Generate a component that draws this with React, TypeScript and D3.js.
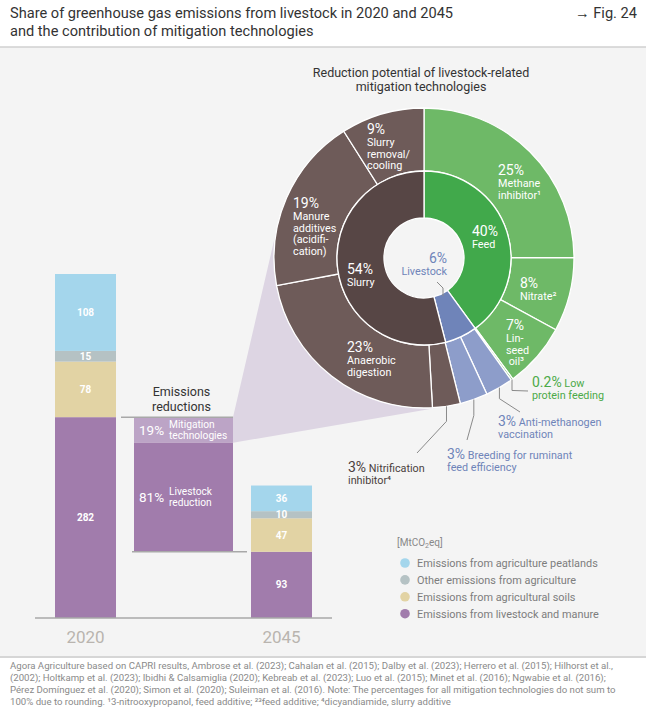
import React from 'react';
import * as d3 from 'd3';

const W = 646;
const H = 727;

// ---------- data ----------
const barCategories = [
  'Emissions from livestock and manure',
  'Emissions from agricultural soils',
  'Other emissions from agriculture',
  'Emissions from agriculture peatlands',
];
const values2020 = [282, 78, 15, 108];
const values2045 = [93, 47, 10, 36];
const barYears = ['2020', '2045'];
const categoryColors = ['#a17cac', '#e2d3a4', '#b5c2c4', '#a4d6ec'];

const reductionShares = [19, 81];
const reductionLabels = [['Mitigation', 'technologies'], ['Livestock', 'reduction']];

const innerNames = ['Feed', 'Livestock', 'Slurry'];
const innerValues = [40, 6, 54];
const outerNames = [
  'Methane inhibitor', 'Nitrate', 'Linseed oil', 'Low protein feeding',
  'Anti-methanogen vaccination', 'Breeding for ruminant feed efficiency',
  'Nitrification inhibitor', 'Anaerobic digestion', 'Manure additives (acidification)',
  'Slurry removal/cooling',
];
const outerValues = [25, 8, 7, 0.2, 3, 3, 3, 23, 19, 9];
const outerGroup = [0, 0, 0, 0, 1, 1, 2, 2, 2, 2];

const innerColors = ['#41a94b', '#6f84b9', '#574645'];
const outerColors = ['#6eb967', '#8d9dca', '#6e5b59'];

const footerLines = [
  'Agora Agriculture based on CAPRI results, Ambrose et al. (2023); Cahalan et al. (2015); Dalby et al. (2023); Herrero et al. (2015); Hilhorst et al.,',
  '(2002); Holtkamp et al. (2023); Ibidhi & Calsamiglia (2020); Kebreab et al. (2023); Luo et al. (2015); Minet et al. (2016); Ngwabie et al. (2016);',
  'Pérez Domínguez et al. (2020); Simon et al. (2020); Suleiman et al. (2016). Note: The percentages for all mitigation technologies do not sum to',
  '100% due to rounding. ¹3-nitrooxypropanol, feed additive; ²³feed additive; ⁴dicyandiamide, slurry additive',
];

const FONT = 'Roboto, "Noto Sans", sans-serif';

export default function App() {
  // ---------- bars ----------
  const baseY = 618;
  const y = d3.scaleLinear().domain([0, d3.sum(values2020)]).range([baseY, 274]);
  const hPx = (v: number) => baseY - y(v);
  const xc = d3.scalePoint<string>().domain(['2020', 'reduction', '2045']).range([85.5, 281.5]);
  const barW = 61;
  const redW = 99;

  const stackOf = (vals: number[]) => {
    let acc = 0;
    return vals.map((v, i) => {
      const s = { i, v, y0: acc, y1: acc + v };
      acc += v;
      return s;
    });
  };
  const stacks = [stackOf(values2020), stackOf(values2045)];

  const redTop = y(values2020[0]);
  const redBottom = y(values2045[0]);
  const redSplit = redTop + (redBottom - redTop) * (reductionShares[0] / d3.sum(reductionShares));
  const redX0 = (xc('reduction') as number) - redW / 2;
  const redX1 = redX0 + redW;

  // ---------- donut ----------
  const cx = 424, cy = 258;
  const rHole = 40, rMid = 87, rOut = 150;
  const pie = d3.pie<number>().sort(null).value((d) => d);
  const innerArcs = pie(innerValues);
  const outerArcs = pie(outerValues);
  const arcInner = d3.arc<d3.PieArcDatum<number>>().innerRadius(rHole).outerRadius(rMid);
  const arcOuter = d3.arc<d3.PieArcDatum<number>>().innerRadius(rMid).outerRadius(rOut);
  const outerPoint = (i: number) => {
    const a = (outerArcs[i].startAngle + outerArcs[i].endAngle) / 2;
    return [cx + rOut * Math.sin(a), cy - rOut * Math.cos(a)];
  };

  // funnel (tangent lines from reduction bar to the donut)
  const tangent = (px: number, py: number, upper: boolean) => {
    const dx = px - cx, dy = py - cy;
    const d = Math.hypot(dx, dy);
    const ang = Math.atan2(dy, dx);
    const al = Math.acos(rOut / d);
    const t = upper ? ang + al : ang - al;
    return [cx + rOut * Math.cos(t), cy + rOut * Math.sin(t)];
  };
  const P1 = [redX1, redTop];
  const P2 = [redX1, redSplit];
  const T1 = tangent(P1[0], P1[1], true);
  const T2 = tangent(P2[0], P2[1], false);
  const funnel = `M${P1[0]},${P1[1]} L${T1[0]},${T1[1]} A${rOut},${rOut} 0 0 0 ${T2[0]},${T2[1]} L${P2[0]},${P2[1]} Z`;

  // in-donut labels (x, y = baseline of pct line)
  const white = '#ffffff';
  const donutLabels = [
    { x: 498, y: 175, pct: '25%', lines: ['Methane', 'inhibitor¹'], color: white, anchor: 'start' },
    { x: 472, y: 236, pct: '40%', lines: ['Feed'], color: white, anchor: 'start' },
    { x: 520, y: 288, pct: '8%', lines: ['Nitrate²'], color: white, anchor: 'start' },
    { x: 506, y: 330, pct: '7%', lines: ['Lin-', 'seed', ' oil³'], color: white, anchor: 'start' },
    { x: 367, y: 134, pct: '9%', lines: ['Slurry', 'removal/', 'cooling'], color: white, anchor: 'start' },
    { x: 293, y: 208, pct: '19%', lines: ['Manure', 'additives', '(acidifi-', 'cation)'], color: white, anchor: 'start' },
    { x: 347, y: 274, pct: '54%', lines: ['Slurry'], color: white, anchor: 'start' },
    { x: 347, y: 352, pct: '23%', lines: ['Anaerobic', 'digestion'], color: white, anchor: 'start' },
    { x: 447, y: 263, pct: '6%', lines: ['Livestock'], color: innerColors[1], anchor: 'end' },
  ];

  const green = '#4caa48';
  const blue = '#6f84b9';
  const dark = '#4a3e3d';
  const extLabels = [
    { idx: 3, drop: 11, end: [528, 391], x: 532, y: 387, pct: '0.2%', first: ' Low', second: 'protein feeding', color: green },
    { idx: 4, drop: 11, end: [520, 412], x: 498, y: 426, pct: '3%', first: ' Anti-methanogen', second: 'vaccination', color: blue },
    { idx: 5, drop: 16, end: [467, 440], x: 447, y: 459, pct: '3%', first: ' Breeding for ruminant', second: 'feed efficiency', color: blue },
    { idx: 6, drop: 15, end: [417, 453], x: 348, y: 472, pct: '3%', first: ' Nitrification', second: 'inhibitor⁴', color: dark },
  ];

  const legendOrder = [3, 2, 1, 0];

  return (
    <svg
      width={W}
      height={H}
      viewBox={`0 0 ${W} ${H}`}
      style={{ position: 'absolute', left: 0, top: 0, fontFamily: FONT }}
    >
      <rect x={0} y={0} width={W} height={H} fill="#ffffff" />
      <rect x={0} y={47} width={W} height={609} fill="#f4f4f4" />
      <line x1={0} x2={W} y1={47} y2={47} stroke="#d0d0d0" strokeWidth={1.5} />
      <line x1={0} x2={W} y1={657} y2={657} stroke="#c8c8c8" strokeWidth={1.5} />

      {/* title */}
      <text x={10} y={18} fontSize={14.6} fill="#333">Share of greenhouse gas emissions from livestock in 2020 and 2045</text>
      <text x={10} y={36} fontSize={14.6} fill="#333">and the contribution of mitigation technologies</text>
      <text x={637} y={18} fontSize={14.6} fill="#333" textAnchor="end">→ Fig. 24</text>

      {/* funnel */}
      <path d={funnel} fill="#ddd5e3" />

      {/* stacked bars */}
      {stacks.map((st, bi) => {
        const cxBar = xc(barYears[bi]) as number;
        return (
          <g key={barYears[bi]}>
            {st.map((s) => (
              <rect key={s.i} x={cxBar - barW / 2} y={y(s.y1)} width={barW} height={hPx(s.v)} fill={categoryColors[s.i]} />
            ))}
            {st.map((s) => (
              <text key={'t' + s.i} x={cxBar} y={(y(s.y1) + y(s.y0)) / 2 + 3.6} fontSize={10} fontWeight="bold" fill="#fff" textAnchor="middle">
                {s.v}
              </text>
            ))}
            <text x={cxBar} y={643} fontSize={17} fill="#b9b4af" textAnchor="middle">{barYears[bi]}</text>
          </g>
        );
      })}
      <line x1={35} x2={332} y1={baseY} y2={baseY} stroke="#a8a8a8" strokeWidth={1.5} />

      {/* reduction bar */}
      <rect x={redX0} y={redTop} width={redW} height={redSplit - redTop} fill="#bca4c6" />
      <rect x={redX0} y={redSplit} width={redW} height={redBottom - redSplit} fill={categoryColors[0]} />
      <line x1={121} x2={redX1} y1={redTop} y2={redTop} stroke="#a8a8a8" strokeWidth={1.5} />
      <line x1={redX0 - 2} x2={247} y1={redBottom} y2={redBottom} stroke="#a8a8a8" strokeWidth={1.5} />
      <text x={(redX0 + redX1) / 2 - 2} y={396} fontSize={12.5} fill="#333" textAnchor="middle">Emissions</text>
      <text x={(redX0 + redX1) / 2 - 2} y={411} fontSize={12.5} fill="#333" textAnchor="middle">reductions</text>
      {[0, 1].map((k) => {
        const mid = k === 0 ? (redTop + redSplit) / 2 : (redSplit + redBottom) / 2;
        return (
          <g key={k}>
            <text x={redX0 + 5} y={mid + 5} fontSize={13.5} fill="#fff">{reductionShares[k]}%</text>
            <text x={redX0 + 35} y={mid - 2} fontSize={10.2} fill="#fff">{reductionLabels[k][0]}</text>
            <text x={redX0 + 35} y={mid + 9.2} fontSize={10.2} fill="#fff">{reductionLabels[k][1]}</text>
          </g>
        );
      })}

      {/* donut */}
      <text x={421} y={77} fontSize={12.5} fill="#333" textAnchor="middle">Reduction potential of livestock-related</text>
      <text x={421} y={91} fontSize={12.5} fill="#333" textAnchor="middle">mitigation technologies</text>
      <g transform={`translate(${cx},${cy})`}>
        {outerArcs.map((a, i) => (
          <path key={'o' + i} d={arcOuter(a) as string} fill={outerColors[outerGroup[i]]} stroke="#fff" strokeWidth={1.3} />
        ))}
        {innerArcs.map((a, i) => (
          <path key={'i' + i} d={arcInner(a) as string} fill={innerColors[i]} stroke="#fff" strokeWidth={1.3} />
        ))}
      </g>

      {donutLabels.map((l, i) => (
        <g key={'dl' + i} fill={l.color} textAnchor={l.anchor as any}>
          <text x={l.x} y={l.y} fontSize={14}>{l.pct}</text>
          {l.lines.map((t, j) => (
            <text key={j} x={l.x} y={l.y + 12 + j * 11.7} fontSize={10.8} style={{ whiteSpace: 'pre' }}>{t}</text>
          ))}
        </g>
      ))}
      {/* livestock leader */}
      <polyline points={`${cx + 13},${cy + 24} ${cx + 19},${cy + 30} ${cx + 19},${cy + 38}`} fill="none" stroke="#8a8a8a" strokeWidth={1} />

      {/* external labels */}
      {extLabels.map((l, i) => {
        const p = outerPoint(l.idx);
        const pts = `${p[0]},${p[1]} ${p[0]},${p[1] + l.drop} ${l.end[0]},${l.end[1]}`;
        return (
          <g key={'el' + i}>
            <polyline points={pts} fill="none" stroke="#8a8a8a" strokeWidth={1} />
            <text x={l.x} y={l.y} fill={l.color} style={{ whiteSpace: 'pre' }}>
              <tspan fontSize={14}>{l.pct}</tspan>
              <tspan fontSize={10.8}>{l.first}</tspan>
            </text>
            <text x={l.x} y={l.y + 11.5} fill={l.color} fontSize={10.8}>{l.second}</text>
          </g>
        );
      })}

      {/* legend */}
      <text x={397} y={546} fontSize={10} fill="#888">
        [MtCO<tspan fontSize={7} dy={2}>2</tspan><tspan dy={-2}>eq]</tspan>
      </text>
      {legendOrder.map((ci, k) => (
        <g key={'lg' + ci}>
          <circle cx={405} cy={563 + k * 16.9} r={4.8} fill={categoryColors[ci]} />
          <text x={417} y={563 + k * 16.9 + 3.8} fontSize={10.9} fill="#7d7d7d">{barCategories[ci]}</text>
        </g>
      ))}

      {/* footer */}
      {footerLines.map((t, i) => (
        <text key={'f' + i} x={10} y={669} fontSize={9.65} fill="#8a8a8a" dy={i * 12}>{t}</text>
      ))}
    </svg>
  );
}
